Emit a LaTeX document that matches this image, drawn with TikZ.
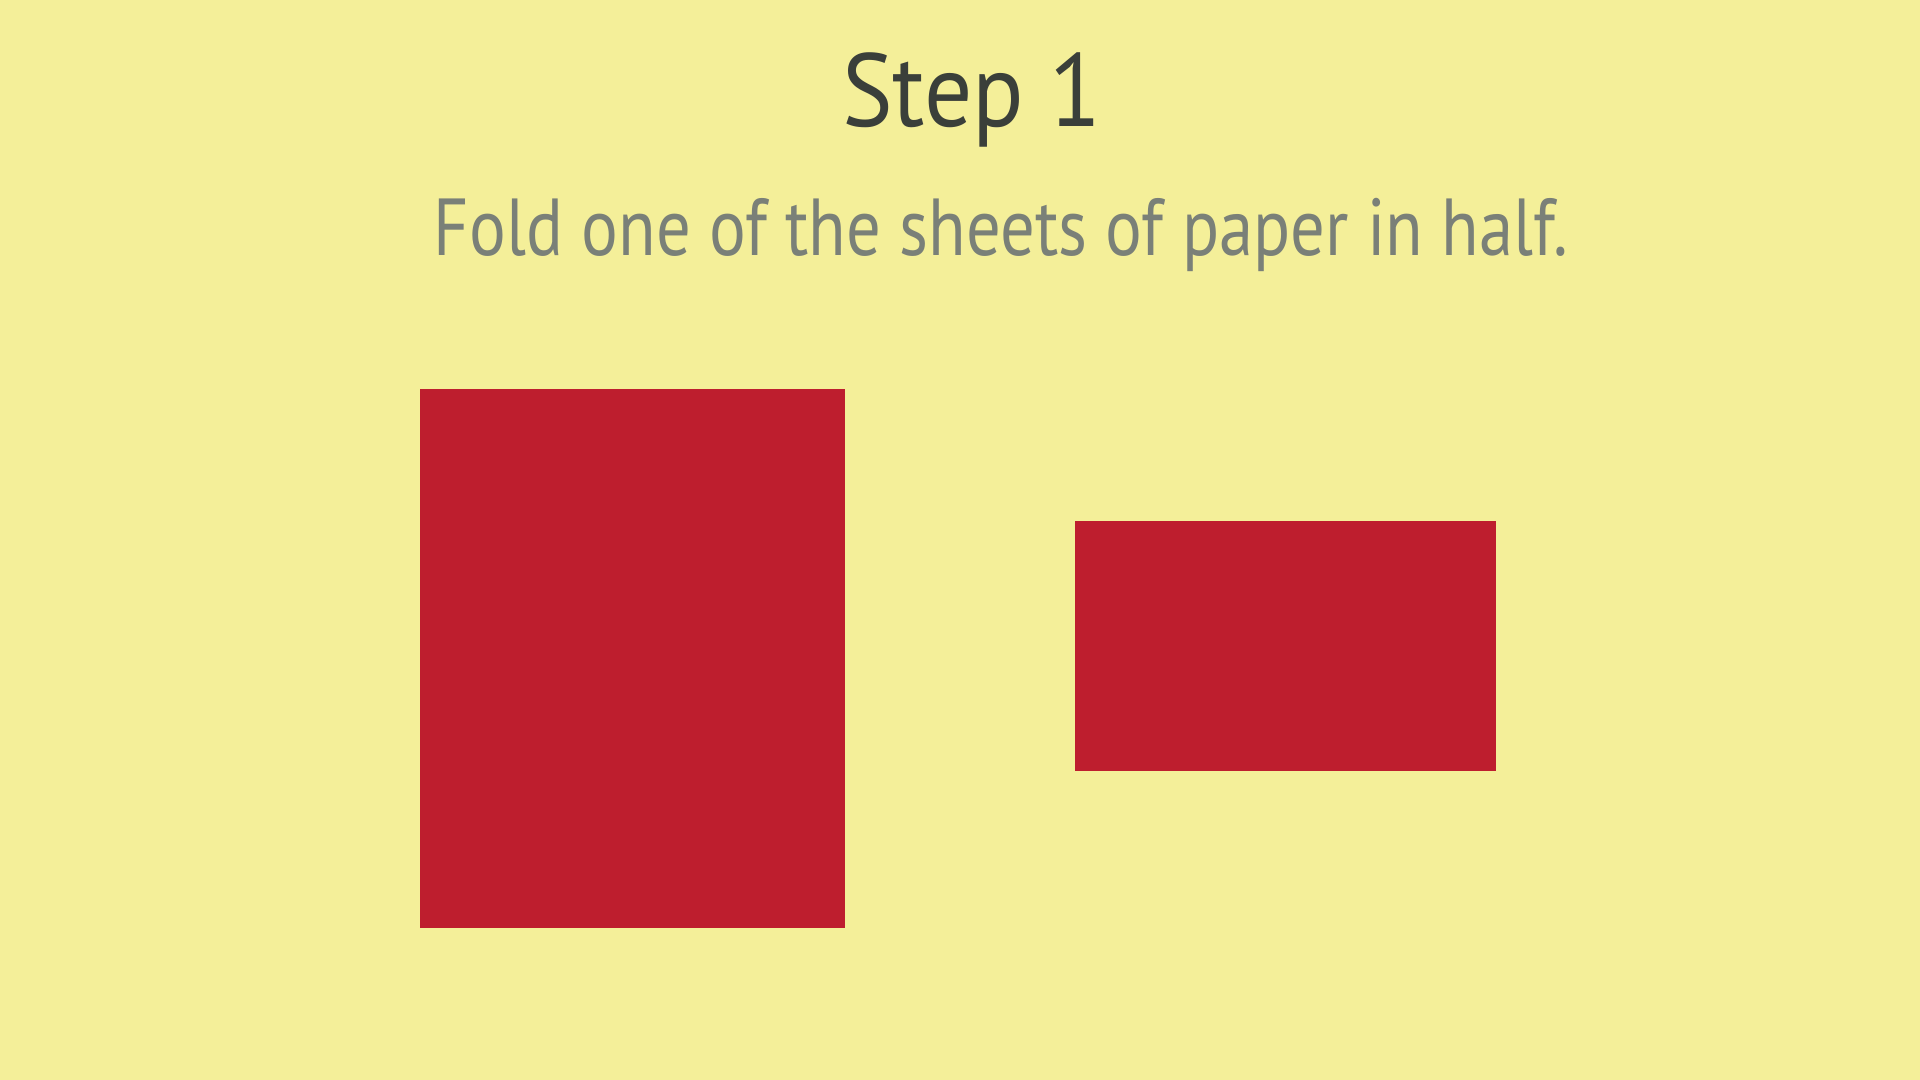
\documentclass[tikz,border=0pt]{standalone}
\usepackage{fontspec}
\setmainfont{PT Sans}
\definecolor{bg}{RGB}{244,239,153}
\definecolor{paper}{RGB}{190,30,46}
\definecolor{titlec}{RGB}{58,63,58}
\definecolor{subc}{RGB}{122,128,120}
\begin{document}
\begin{tikzpicture}[x=1cm,y=1cm,
  sheet/.style={fill=paper,draw=none,inner sep=0pt,outer sep=0pt,anchor=north west},
  titletext/.style={text=titlec,anchor=base,inner sep=0pt,font=\fontsize{29.5pt}{34pt}\selectfont},
  subtext/.style={text=subc,anchor=base,inner sep=0pt,font=\fontsize{23pt}{28pt}\selectfont}]
\fill[bg] (0,0) rectangle (19.2,-10.8);
\useasboundingbox (0,0) rectangle (19.2,-10.8);
\node[titletext] (title) at (9.72,-1.27) {\scalebox{0.92}[1]{Step 1}};
\node[subtext] (subtitle) at (10.01,-2.56) {\scalebox{0.85}[1]{Fold one of the sheets of paper in half.}};
\node[sheet,minimum width=4.25cm,minimum height=5.39cm] (sheetA) at (4.20,-3.89) {};
\node[sheet,minimum width=4.21cm,minimum height=2.50cm] (sheetB) at (10.75,-5.21) {};
\end{tikzpicture}
\end{document}
